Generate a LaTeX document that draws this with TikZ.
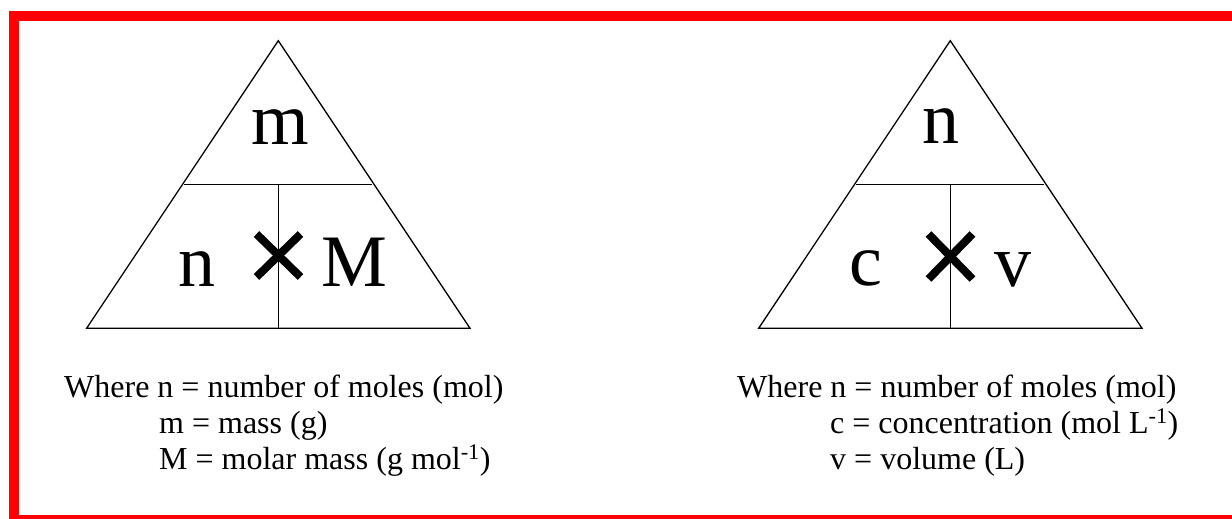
\documentclass[tikz,border=0pt]{standalone}
\usepackage{fontspec}
\setmainfont{Liberation Serif}
\begin{document}
\begin{tikzpicture}[x=1pt,y=-1pt,
  big/.style={font=\fontsize{74}{80}\selectfont, inner sep=0pt, anchor=base},
  desc/.style={font=\fontsize{32}{36}\selectfont, inner sep=0pt, anchor=base west},
  edge/.style={draw=black, line width=1.3pt},
  cross/.style={draw=black, line width=8pt}]
\useasboundingbox (0,0) rectangle (1232,519);
\clip (0,0) rectangle (1232,519);
\fill[white] (0,0) rectangle (1232,519);
\draw[red, line width=10pt] (14,16) rectangle (1250,520);

% left triangle
\coordinate (LA) at (278.3,40.7);
\coordinate (LL) at (86.6,328.3);
\coordinate (LR) at (470,328.3);
\coordinate (LH1) at (184.3,184.3);
\coordinate (LH2) at (372.3,184.3);
\coordinate (LV1) at (278.3,184.3);
\coordinate (LV2) at (278.3,328.3);
\draw[edge] (LA) -- (LL) -- (LR) -- cycle;
\draw[edge] (LH1) -- (LH2);
\draw[edge] (LV1) -- (LV2);
\draw[cross] (256.5,234) -- (300.5,277);
\draw[cross] (300.5,234) -- (256.5,277);
\node[big] (lm) at (280,144) {m};
\node[big] (ln) at (197,286.7) {n};
\node[big] (lM) at (354,286.7) {M};

% right triangle
\coordinate (RA) at (950.3,40.7);
\coordinate (RL) at (758.6,328.3);
\coordinate (RR) at (1142,328.3);
\coordinate (RH1) at (856.3,184.3);
\coordinate (RH2) at (1044.3,184.3);
\coordinate (RV1) at (950.3,184.3);
\coordinate (RV2) at (950.3,328.3);
\draw[edge] (RA) -- (RL) -- (RR) -- cycle;
\draw[edge] (RH1) -- (RH2);
\draw[edge] (RV1) -- (RV2);
\draw[cross] (928.5,234) -- (972.5,279);
\draw[cross] (972.5,234) -- (928.5,279);
\node[big] (rn) at (941,143) {n};
\node[big] (rc) at (866,285.5) {c};
\node[big] (rv) at (1013,286) {v};

% descriptions
\node[desc] (l1) at (64,397) {Where n = number of moles (mol)};
\node[desc] (l2) at (159,433) {m = mass (g)};
\node[desc] (l3) at (159,469) {M = molar mass (g mol\textsuperscript{-1})};
\node[desc] (r1) at (737,397) {Where n = number of moles (mol)};
\node[desc] (r2) at (830,433) {c = concentration (mol L\textsuperscript{-1})};
\node[desc] (r3) at (830,469) {v = volume (L)};
\end{tikzpicture}
\end{document}
